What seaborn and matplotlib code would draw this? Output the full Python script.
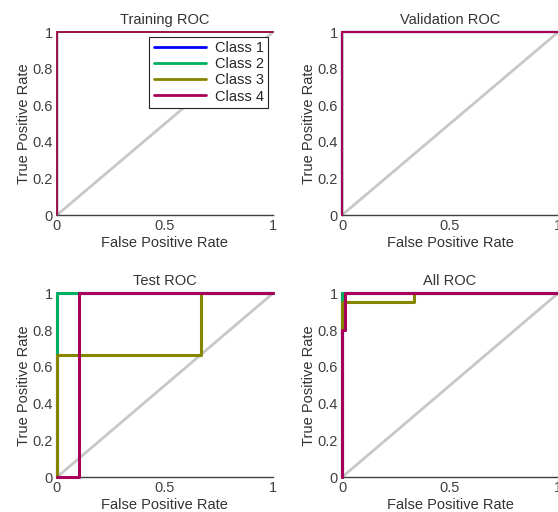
import numpy as np
import pandas as pd
import matplotlib
matplotlib.use('Agg')
import matplotlib.pyplot as plt
import seaborn as sns

sns.set_style('white')
plt.rcParams['font.family'] = ['Liberation Sans', 'DejaVu Sans']

classes = ['Class 1', 'Class 2', 'Class 3', 'Class 4']
colors = ['#0000ff', '#00b060', '#858500', '#a8005a']

# ROC curves: (fpr, tpr) per class
train_fpr = [[0, 0, 1], [0, 0, 1], [0, 0, 1], [0, 0, 1]]
train_tpr = [[0, 1, 1], [0, 1, 1], [0, 1, 1], [0, 1, 1]]

val_fpr = [[0, 0, 1], [0, 0, 1], [0, 0, 1], [0, 0, 1]]
val_tpr = [[0, 1, 1], [0, 1, 1], [0, 1, 1], [0, 1, 1]]

test_fpr = [[0, 0, 1], [0, 0, 1], [0, 0, 0.667, 0.667, 1], [0, 0.1, 0.1, 1]]
test_tpr = [[0, 1, 1], [0, 1, 1], [0, 0.667, 0.667, 1, 1], [0, 0, 1, 1]]

all_fpr = [[0, 0, 1], [0, 0, 1], [0, 0, 0.333, 0.333, 1], [0, 0, 0.012, 0.012, 1]]
all_tpr = [[0, 1, 1], [0, 1, 1], [0, 0.952, 0.952, 1, 1], [0, 0.8, 0.8, 1, 1]]

panels = [
    ('Training ROC', train_fpr, train_tpr, [0.102, 0.580, 0.387, 0.357], 1.2),
    ('Validation ROC', val_fpr, val_tpr, [0.613, 0.580, 0.387, 0.357], 1.5),
    ('Test ROC', test_fpr, test_tpr, [0.102, 0.068, 0.387, 0.359], 2.2),
    ('All ROC', all_fpr, all_tpr, [0.613, 0.068, 0.387, 0.359], 2.2),
]

fig = plt.figure(figsize=(5.58, 5.12), dpi=100)
edge = '#404040'

for i, (title, fprs, tprs, pos, lw) in enumerate(panels):
    ax = fig.add_axes(pos)
    ax.plot([0, 1], [0, 1], color='#c8c8c8', lw=2, zorder=1)
    rows = []
    for c, f, t in zip(classes, fprs, tprs):
        for k, (x, y) in enumerate(zip(f, t)):
            rows.append({'fpr': x, 'tpr': y, 'cls': c, 'ord': k})
    df = pd.DataFrame(rows)
    sns.lineplot(data=df, x='fpr', y='tpr', hue='cls', palette=colors,
                 sort=False, estimator=None, units='cls', lw=lw, ax=ax,
                 legend=False, clip_on=False, zorder=3)
    ax.set_xlim(0, 1)
    ax.set_ylim(0, 1)
    ax.set_xticks([0, 0.5, 1])
    ax.set_xticklabels(['0', '0.5', '1'])
    ax.set_yticks([0, 0.2, 0.4, 0.6, 0.8, 1])
    ax.set_yticklabels(['0', '0.2', '0.4', '0.6', '0.8', '1'])
    ax.tick_params(direction='in', length=3, labelsize=10.5, colors=edge, pad=3)
    for s in ['top', 'right']:
        ax.spines[s].set_visible(False)
    for s in ['left', 'bottom']:
        ax.spines[s].set_color(edge)
        ax.spines[s].set_linewidth(1)
    ax.set_title(title, fontsize=10.5, color='#333333', pad=6)
    ax.set_xlabel('False Positive Rate', fontsize=10.5, color='#333333', labelpad=2)
    ax.set_ylabel('True Positive Rate', fontsize=10.5, color='#333333', labelpad=1)
    if i == 0:
        handles = [plt.Line2D([], [], color=col, lw=2) for col in colors]
        leg = ax.legend(handles, classes, loc='upper right', fontsize=10.5,
                        frameon=True, fancybox=False, framealpha=1,
                        borderaxespad=0.3, handlelength=3.6, labelspacing=0.15,
                        borderpad=0.3, handletextpad=0.6)
        leg.get_frame().set_edgecolor('#222222')
        leg.get_frame().set_linewidth(0.8)

fig.savefig('out.png', dpi=100)
